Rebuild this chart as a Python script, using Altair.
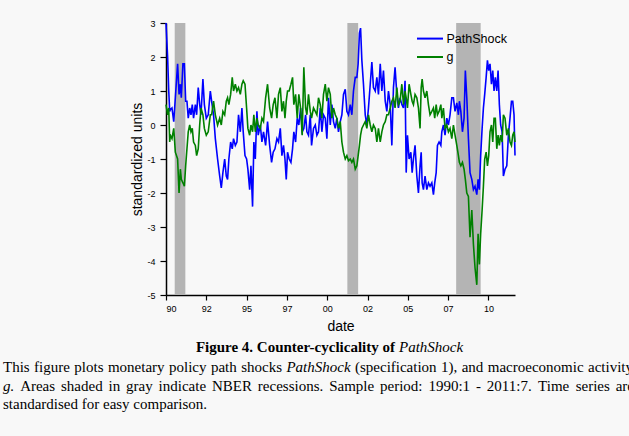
import altair as alt
import pandas as pd

# ---------------- data ----------------
years = [
    1990.00, 1990.10, 1990.17, 1990.23, 1990.27, 1990.37, 1990.48, 1990.58, 1990.72, 1990.81,
    1990.89, 1990.95, 1991.05, 1991.14, 1991.22, 1991.30, 1991.38, 1991.47, 1991.55, 1991.63,
    1991.71, 1991.82, 1991.90, 1992.00, 1992.09, 1992.17, 1992.29, 1992.38, 1992.50, 1992.62,
    1992.75, 1992.83, 1992.95, 1993.06, 1993.20, 1993.33, 1993.43, 1993.53, 1993.64, 1993.74,
    1993.82, 1993.90, 1994.01, 1994.11, 1994.19, 1994.30, 1994.40, 1994.50, 1994.61, 1994.71,
    1994.79, 1994.90, 1995.00, 1995.08, 1995.19, 1995.27, 1995.37, 1995.45, 1995.54, 1995.64,
    1995.72, 1995.85, 1995.95, 1996.05, 1996.18, 1996.30, 1996.43, 1996.55, 1996.65, 1996.76,
    1996.88, 1996.98, 1997.09, 1997.19, 1997.29, 1997.38, 1997.46, 1997.54, 1997.64, 1997.75,
    1997.85, 1997.93, 1998.04, 1998.14, 1998.24, 1998.35, 1998.45, 1998.55, 1998.66, 1998.74,
    1998.84, 1998.95, 1999.03, 1999.15, 1999.26, 1999.36, 1999.46, 1999.57, 1999.67, 1999.77,
    1999.88, 1999.98, 2000.08, 2000.19, 2000.29, 2000.39, 2000.50, 2000.60, 2000.70, 2000.81,
    2000.91, 2001.01, 2001.12, 2001.22, 2001.32, 2001.43, 2001.53, 2001.63, 2001.74, 2001.84,
    2001.92, 2002.00, 2002.07, 2002.15, 2002.25, 2002.36, 2002.46, 2002.56, 2002.67, 2002.77,
    2002.87, 2002.98, 2003.08, 2003.18, 2003.29, 2003.39, 2003.49, 2003.60, 2003.70, 2003.80,
    2003.91, 2004.01, 2004.11, 2004.21, 2004.32, 2004.42, 2004.52, 2004.63, 2004.73, 2004.83,
    2004.90, 2004.98, 2005.08, 2005.19, 2005.27, 2005.35, 2005.45, 2005.56, 2005.66, 2005.76,
    2005.83, 2005.89, 2005.97, 2006.07, 2006.18, 2006.28, 2006.38, 2006.49, 2006.59, 2006.67,
    2006.76, 2006.84, 2006.94, 2007.05, 2007.11, 2007.21, 2007.31, 2007.42, 2007.52, 2007.62,
    2007.73, 2007.83, 2007.93, 2008.04, 2008.14, 2008.20, 2008.29, 2008.39, 2008.49, 2008.57,
    2008.66, 2008.76, 2008.86, 2008.97, 2009.07, 2009.17, 2009.28, 2009.36, 2009.44, 2009.52,
    2009.61, 2009.69, 2009.77, 2009.86, 2009.94, 2010.02, 2010.10, 2010.19, 2010.27, 2010.35,
    2010.43, 2010.52, 2010.60, 2010.68, 2010.76, 2010.85, 2010.93, 2011.03, 2011.14, 2011.24,
    2011.34, 2011.43, 2011.51, 2011.59, 2011.65,
]

path_shock = [
    3.0, 2.0, 1.0, 0.4, 0.45, 0.5, 0.1, 0.8, 1.8, 0.9,
    1.2, 0.8, 1.8, 1.8, 0.7, 0.7, 0.2, 0.5, 0.3, 0.6,
    0.2, 0.6, 0.3, 1.1, 0.6, 0.3, 1.35, 0.6, 0.2, 0.3,
    1.0, 0.7, 0.3, -0.4, -1.0, -1.5, -1.85, -1.4, -1.0, -1.5,
    -1.6, -1.0, -0.5, -0.7, -0.4, -0.6, -0.5, 0.3, -0.2, 0.5,
    -0.2, -0.9, -1.0, -1.3, -1.9, -1.2, -2.4, -0.5, -1.0, 0.4,
    -0.3, 0.0, -0.5, -0.2, -0.6, 0.1, -0.6, -1.1, -0.8, -0.7,
    -0.4, -0.5, -0.1, -0.9, -0.6, -1.0, -1.6, -0.8, -1.0, -1.1,
    -0.7, -0.2, -0.5, 0.2, 0.0, 0.5, -0.2, -0.1, 0.3, -0.2,
    -0.3, 0.3, -0.6, -0.1, 0.0, -0.3, -0.2, 0.5, -0.2, 0.3,
    0.2, -0.4, 0.8, 0.0, 0.6, 0.1, -0.1, 0.2, -0.2, 0.1,
    0.3, 0.9, 1.05, 0.4, 0.3, 0.6, 0.3, 1.0, 1.4, 1.4,
    1.8, 2.7, 2.85, 1.9, 1.2, 0.3, 0.0, 0.5, 1.2, 1.85,
    1.1, 1.0, 1.4, 0.9, 1.8, 1.0, 1.6, 0.7, 0.4, 1.0,
    0.6, -0.6, 1.1, 1.7, 0.9, 0.5, 0.8, 0.6, 0.5, 1.3,
    -1.4, -0.3, -1.0, -0.8, -1.4, -1.0, -0.6, -1.5, -2.0, -1.2,
    -0.8, -1.7, -1.9, -1.5, -1.9, -1.7, -1.8, -1.7, -2.05, -1.7,
    -1.4, -0.6, -0.5, -0.6, -0.2, 0.0, -0.3, 0.2, 0.0, 0.3,
    0.8, 0.8, 0.4, 0.65, 0.3, 0.7, 0.4, -0.2, 0.2, 1.6,
    0.8, -0.4, -1.4, -1.6, -1.9, -1.8, -2.05, -1.6, -1.9, -0.9,
    -0.1, 0.5, 0.9, 1.4, 1.9, 1.6, 1.8, 1.2, 1.6, 1.0,
    1.4, 1.0, 1.6, 0.6, 0.0, -0.2, -1.5, -1.3, -1.2, -0.3,
    0.2, 0.7, 0.7, 0.3, -0.9,
]

g_activity = [
    0.6, 0.3, 0.5, -0.5, -0.3, -0.4, -0.1, -0.8, -1.0, -2.0,
    -1.3, -1.6, -1.7, -1.8, -1.2, -0.7, -0.2, 0.0, -0.2, -0.1,
    -0.5, -0.6, -0.9, -0.7, 0.0, 0.5, 0.3, -0.1, -0.3, -0.2,
    0.3, 0.3, 0.7, 0.3, 0.0, 0.2, 0.0, 0.4, 0.3, 0.7,
    0.8, 0.6, 0.9, 1.4, 1.0, 1.2, 1.0, 1.1, 0.9, 1.2,
    1.3, 1.2, 0.5, -0.1, -0.3, 0.0, -0.2, 0.3, -0.2, 0.2,
    0.0, -0.1, 0.2, 0.1, 0.8, 1.2, 0.5, 0.2, 0.6, 0.8,
    0.2, 0.9, 1.1, 0.4, 0.7, 0.2, 0.7, 1.0, 1.0, 1.2,
    1.4, 0.6, 0.9, 0.2, 0.9, 0.5, -0.3, 1.7, 0.5, 0.3,
    0.9, 0.4, 0.2, 0.5, 0.4, 0.3, 0.8, 0.6, 0.2, 0.9,
    1.2, 0.7, 1.1, 0.9, 0.2, 0.5, 0.3, 0.2, -0.1, 0.1,
    -0.5, -0.8, -1.0, -0.9, -1.05, -1.0, -1.1, -1.0, -1.3, -1.2,
    -0.9, -0.6, -0.3, -0.1, 0.0, 0.1, -0.1, 0.3, 0.0, -0.2,
    0.0, -0.1, -0.5, -0.1, -0.5, -0.2, 0.0, 0.1, 0.3, 0.3,
    0.5, 0.7, 0.8, 0.5, 1.1, 0.6, 0.7, 1.2, 0.6, 1.0,
    0.8, 0.5, 1.2, 0.9, 0.7, 0.6, 0.9, 0.8, 0.5, -0.1,
    1.1, 1.35, 1.0, 0.8, 1.0, 0.6, 0.3, 0.4, 0.5, 0.2,
    0.6, 0.3, 0.4, 0.6, 0.2, 0.5, -0.1, 0.0, -0.2, -0.1,
    -0.4, 0.0, -0.3, -0.6, -0.9, -1.1, -1.2, -1.1, -1.3, -1.6,
    -2.0, -2.1, -3.3, -2.5, -3.5, -4.2, -4.7, -3.2, -4.1, -3.2,
    -2.5, -1.8, -1.0, -0.8, -1.2, -0.9, -0.2, 0.0, -0.5, 0.2,
    0.2, -0.7, -0.3, -0.6, -0.3, -0.5, 0.3, 0.2, -0.3, -0.1,
    -0.5, -0.6, -0.3, -0.2, -0.5,
]

recession_start = [1990.54, 2001.25, 2008.00]
recession_end = [1991.20, 2001.92, 2009.52]

x_tick_values = [1990, 1992.5, 1995, 1997.5, 2000, 2002.5, 2005, 2007.5, 2010]
x_tick_labels = ["90", "92", "95", "97", "00", "02", "05", "07", "10"]
y_tick_values = [-5, -4, -3, -2, -1, 0, 1, 2, 3]

series_names = ["PathShock", "g"]
series_colors = ["#0000ff", "#008000"]

caption_title = "Figure 4.  Counter-cyclicality of"
caption_title_italic = "PathShock"
caption_line1 = [("This", 0), ("figure", 0), ("plots", 0), ("monetary", 0), ("policy", 0),
                 ("path", 0), ("shocks", 0), ("PathShock", 1), ("(specification", 0), ("1),", 0),
                 ("and", 0), ("macroeconomic", 0), ("activity", 0)]
caption_line2 = [("g.", 1), ("Areas", 0), ("shaded", 0), ("in", 0), ("gray", 0), ("indicate", 0),
                 ("NBER", 0), ("recessions.", 0), ("Sample", 0), ("period:", 0), ("1990:1", 0),
                 ("-", 0), ("2011:7.", 0), ("Time", 0), ("series", 0), ("are", 0)]
caption_line3 = "standardised for easy comparison."

# ---------------- layout ----------------
W, H = 349, 272
PAD_L, PAD_T = 166, 23
SANS = "Liberation Sans"
SERIF = "Liberation Serif"
FS = 15

df_ps = pd.DataFrame({"year": years, "value": path_shock})
df_g = pd.DataFrame({"year": years, "value": g_activity})
df_rec = pd.DataFrame({"start": recession_start, "end": recession_end})

label_expr = "[{}][indexof([{}], datum.value)]".format(
    ",".join("'%s'" % s for s in x_tick_labels),
    ",".join(str(v) for v in x_tick_values),
)

x_scale = alt.Scale(domain=[1990, 2011.65], nice=False, zero=False)
y_scale = alt.Scale(domain=[-5, 3], nice=False, zero=False)

x_axis = alt.Axis(
    values=x_tick_values, labelExpr=label_expr, title="date", grid=False,
    tickSize=5, labelPadding=4, labelFontSize=9, labelFont=SANS,
    titleFont=SANS, titleFontSize=14, titleFontWeight="normal", titlePadding=6,
    domainColor="black", tickColor="black", labelColor="black", titleColor="black",
    domainWidth=1.5, tickWidth=1.2,
)
y_axis = alt.Axis(
    values=y_tick_values, labelExpr="'' + datum.value", title="standardized units", grid=False,
    tickSize=6, labelPadding=5, labelFontSize=9, labelFont=SANS,
    titleFont=SANS, titleFontSize=14, titleFontWeight="normal", titlePadding=2,
    domainColor="black", tickColor="black", labelColor="black", titleColor="black",
    domainWidth=1.5, tickWidth=1.2,
)

rec = alt.Chart(df_rec).mark_rect(color="#b4b4b4", opacity=1).encode(
    x=alt.X("start:Q", scale=x_scale, axis=x_axis),
    x2="end:Q",
    y=alt.value(0),
    y2=alt.value(H),
)

line_ps = alt.Chart(df_ps).mark_line(color=series_colors[0], strokeWidth=1.6).encode(
    x=alt.X("year:Q", scale=x_scale, axis=x_axis),
    y=alt.Y("value:Q", scale=y_scale, axis=y_axis),
)
line_g = alt.Chart(df_g).mark_line(color=series_colors[1], strokeWidth=1.6).encode(
    x=alt.X("year:Q", scale=x_scale, axis=x_axis),
    y=alt.Y("value:Q", scale=y_scale, axis=y_axis),
)

one = alt.Data(values=[{}])

legend_layers = []
for i, (name, col) in enumerate(zip(series_names, series_colors)):
    ly = 15.6 + i * 18.4
    legend_layers.append(
        alt.Chart(one).mark_rule(color=col, strokeWidth=2).encode(
            x=alt.value(251), x2=alt.value(277), y=alt.value(ly)
        )
    )
    legend_layers.append(
        alt.Chart(one).mark_text(
            text=name, font=SANS, fontSize=12.5, align="left", baseline="middle", color="black"
        ).encode(x=alt.value(280.5), y=alt.value(ly))
    )


def txt(s, x, y, size=FS, style="normal", weight="normal", align="left"):
    return alt.Chart(one).mark_text(
        text=s, font=SERIF, fontSize=size, fontStyle=style, fontWeight=weight,
        align=align, baseline="middle", color="black",
    ).encode(x=alt.value(x - PAD_L), y=alt.value(y - PAD_T))


# Times-Roman glyph advance widths (em), used to spread words on justified lines
TIMES = {
    "a": .444, "b": .5, "c": .444, "d": .5, "e": .444, "f": .333, "g": .5, "h": .5, "i": .278,
    "j": .278, "k": .5, "l": .278, "m": .778, "n": .5, "o": .5, "p": .5, "q": .5, "r": .333,
    "s": .389, "t": .278, "u": .5, "v": .5, "w": .722, "x": .5, "y": .5, "z": .444,
    "A": .722, "B": .667, "C": .667, "D": .722, "E": .611, "N": .722, "P": .556, "R": .667,
    "S": .556, "T": .611, ".": .25, ",": .25, ":": .278, "(": .333, ")": .333, "-": .333,
}


def word_width(w, fs):
    return sum(TIMES.get(ch, 0.5) for ch in w) * fs


def justified(words, y, x0, x1, fs=FS):
    widths = [word_width(w, fs) for w, _ in words]
    gap = (x1 - x0 - sum(widths)) / (len(words) - 1)
    out = []
    x = x0
    for (w, it), wd in zip(words, widths):
        out.append(txt(w, x, y, size=fs, style="italic" if it else "normal"))
        x += wd + gap
    return out


caption = [
    txt(caption_title, 395, 347, size=15, weight="bold", align="right"),
    txt(caption_title_italic, 399, 347, size=15, style="italic"),
    *justified(caption_line1, 367, 3, 633),
    *justified(caption_line2, 385.5, 3, 634),
    txt(caption_line3, 3, 404),
]

chart = alt.layer(rec, line_ps, line_g, *legend_layers, *caption).properties(
    width=W, height=H,
    padding={"left": PAD_L, "top": PAD_T, "right": 629 - PAD_L - W, "bottom": 436 - PAD_T - H},
    autosize=alt.AutoSizeParams(type="none"),
    background="#f8f8f8",
).configure_view(stroke=None)

chart.save("out.html", embed_options={"renderer": "svg", "actions": False})
